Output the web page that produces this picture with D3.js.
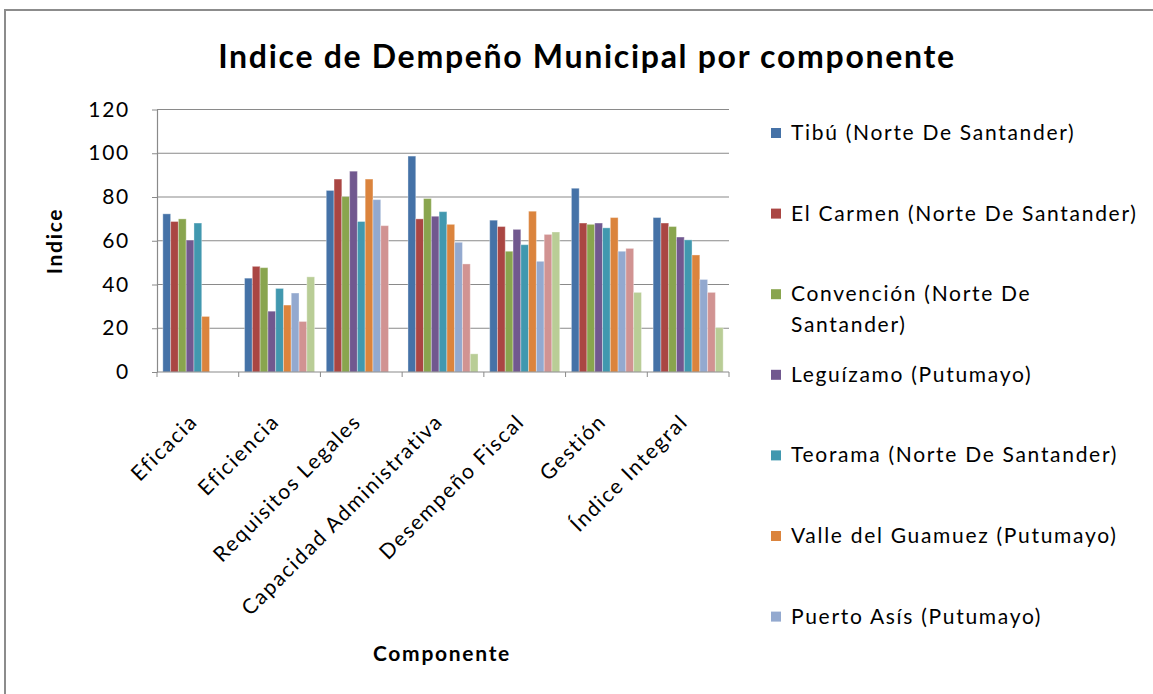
<!DOCTYPE html>
<html>
<head>
<meta charset="utf-8">
<script src="https://cdn.jsdelivr.net/npm/d3@7"></script>
<style>
  body { margin: 0; background: #fff; }
  svg { display: block; font-family: Lato, "Open Sans", sans-serif; font-variant-ligatures: none; }
  text { letter-spacing: 1.7px; }
</style>
</head>
<body>
<svg id="chart" width="1153" height="694"></svg>
<script>
// categories on the x axis
var categories = ["Eficacia", "Eficiencia", "Requisitos Legales", "Capacidad Administrativa",
                  "Desempeño Fiscal", "Gestión", "Índice Integral"];

// one array per municipio (null = no bar)
var tibu       = [72.3, 42.9, 83.0, 98.7, 69.4, 84.0, 70.6];
var elCarmen   = [68.8, 48.3, 88.2, 70.0, 66.5, 68.1, 68.1];
var convencion = [70.0, 47.7, 80.2, 79.3, 55.2, 67.5, 66.5];
var leguizamo  = [60.3, 27.8, 91.8, 71.2, 65.2, 68.1, 61.7];
var teorama    = [68.1, 38.2, 68.8, 73.3, 58.2, 65.9, 60.4];
var valle      = [25.4, 30.6, 88.2, 67.5, 73.5, 70.6, 53.5];
var puertoAsis = [null, 36.1, 78.8, 59.3, 50.6, 55.2, 42.3];
var serie8     = [null, 23.1, 66.9, 49.4, 62.9, 56.5, 36.4];
var serie9     = [null, 43.5, null, 8.3, 64.0, 36.4, 20.3];

var seriesNames = ["Tibú (Norte De Santander)", "El Carmen (Norte De Santander)",
                   "Convención (Norte De Santander)", "Leguízamo (Putumayo)",
                   "Teorama (Norte De Santander)", "Valle del Guamuez (Putumayo)",
                   "Puerto Asís (Putumayo)", "Serie 8", "Serie 9"];
var seriesValues = [tibu, elCarmen, convencion, leguizamo, teorama, valle, puertoAsis, serie8, serie9];
var colors = ["#4572A7", "#AA4643", "#89A54E", "#71588F", "#4198AF",
              "#DB843D", "#93A9CF", "#D19392", "#B9CD96"];

var yTicks = [0, 20, 40, 60, 80, 100, 120];

var svg = d3.select("#chart");

// outer frame
svg.append("rect")
  .attr("x", 5).attr("y", 10)
  .attr("width", 1200).attr("height", 800)
  .attr("fill", "#fff")
  .attr("stroke", "#8c8c8c")
  .attr("stroke-width", 2);

var plotLeft = 157, plotRight = 729, plotTop = 109.5, plotBottom = 372;

var x0 = d3.scaleBand()
  .domain(categories)
  .range([plotLeft, plotRight])
  .paddingInner(1.5 / 10.5)
  .paddingOuter(0.75 / 10.5);

var x1 = d3.scaleBand()
  .domain(d3.range(seriesNames.length))
  .range([0, x0.bandwidth()]);

var y = d3.scaleLinear()
  .domain([0, 120])
  .range([plotBottom, plotTop]);

// gridlines
svg.append("g")
  .selectAll("line")
  .data(yTicks.filter(function(d) { return d > 0; }))
  .enter().append("line")
  .attr("x1", plotLeft).attr("x2", plotRight)
  .attr("y1", function(d) { return y(d); })
  .attr("y2", function(d) { return y(d); })
  .attr("stroke", "#8a8a8a")
  .attr("stroke-width", 1.2);

// bars
var groups = svg.append("g")
  .selectAll("g")
  .data(categories)
  .enter().append("g")
  .attr("transform", function(d) { return "translate(" + x0(d) + ",0)"; });

groups.selectAll("rect")
  .data(function(c, ci) {
    return seriesValues.map(function(vals, si) { return {s: si, v: vals[ci]}; })
      .filter(function(d) { return d.v != null; });
  })
  .enter().append("rect")
  .attr("x", function(d) { return x1(d.s); })
  .attr("width", x1.bandwidth())
  .attr("y", function(d) { return y(d.v); })
  .attr("height", function(d) { return y(0) - y(d.v); })
  .attr("fill", function(d) { return colors[d.s]; })
  .attr("stroke", "#fff")
  .attr("stroke-opacity", 0.35)
  .attr("stroke-width", 1);

// y axis
var yAxis = svg.append("g")
  .attr("transform", "translate(" + plotLeft + ",0)")
  .call(d3.axisLeft(y).tickValues(yTicks).tickSize(5).tickSizeOuter(0).tickPadding(22));
yAxis.select(".domain").attr("stroke", "#8a8a8a").attr("stroke-width", 1.2);
yAxis.selectAll(".tick line").attr("stroke", "#8a8a8a");
yAxis.selectAll(".tick text")
  .attr("font-family", "Lato, sans-serif")
  .attr("font-size", 21)
  .attr("fill", "#000");

// x axis line and ticks between categories
svg.append("line")
  .attr("x1", plotLeft).attr("x2", plotRight)
  .attr("y1", plotBottom).attr("y2", plotBottom)
  .attr("stroke", "#8a8a8a").attr("stroke-width", 1.2);

svg.append("g")
  .selectAll("line")
  .data(d3.range(categories.length + 1))
  .enter().append("line")
  .attr("x1", function(i) { return plotLeft + i * x0.step(); })
  .attr("x2", function(i) { return plotLeft + i * x0.step(); })
  .attr("y1", plotBottom).attr("y2", plotBottom + 5)
  .attr("stroke", "#8a8a8a");

// rotated category labels
svg.append("g")
  .selectAll("text")
  .data(categories)
  .enter().append("text")
  .attr("transform", function(d) {
    return "translate(" + (x0(d) + x0.bandwidth() / 2 + 1) + "," + 423 + ") rotate(-45)";
  })
  .attr("text-anchor", "end")
  .attr("font-size", 21)
  .attr("fill", "#000")
  .text(function(d) { return d; });

// titles
svg.append("text")
  .attr("x", 587).attr("y", 68)
  .attr("text-anchor", "middle")
  .attr("font-size", 32)
  .attr("font-weight", "bold")
  .text("Indice de Dempeño Municipal por componente");

svg.append("text")
  .attr("transform", "translate(62,241) rotate(-90)")
  .attr("text-anchor", "middle")
  .attr("font-size", 21)
  .attr("font-weight", "bold")
  .text("Indice");

svg.append("text")
  .attr("x", 442).attr("y", 661)
  .attr("text-anchor", "middle")
  .attr("font-size", 21)
  .attr("font-weight", "bold")
  .text("Componente");

// legend: entries that fall below the chart area are cut off, as in the original
var legendX = 771, legendTop = 133, legendStep = 80.6, legendMaxW = 356;
var legend = svg.append("g");

seriesNames.forEach(function(name, i) {
  var cy = legendTop + i * legendStep;
  if (cy > 670) return;
  var item = legend.append("g");
  item.append("rect")
    .attr("x", legendX).attr("y", cy - 5)
    .attr("width", 10).attr("height", 10)
    .attr("fill", colors[i]);

  var txt = item.append("text")
    .attr("x", legendX + 20).attr("y", cy + 7)
    .attr("font-size", 21)
    .attr("fill", "#000");

  // simple word wrap
  var words = name.split(" ");
  var line = [];
  var tspan = txt.append("tspan").attr("x", legendX + 20).attr("dy", 0);
  words.forEach(function(w) {
    line.push(w);
    tspan.text(line.join(" "));
    if (tspan.node().getComputedTextLength() > legendMaxW && line.length > 1) {
      line.pop();
      tspan.text(line.join(" "));
      line = [w];
      tspan = txt.append("tspan").attr("x", legendX + 20).attr("dy", 31).text(w);
    }
  });
});
</script>
</body>
</html>
